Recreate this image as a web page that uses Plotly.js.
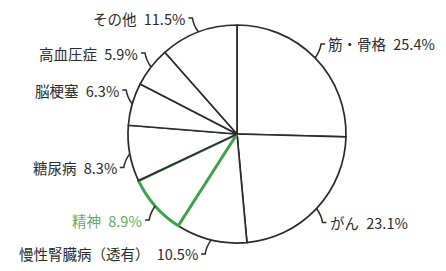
<!DOCTYPE html>
<html>
<head>
<meta charset="utf-8">
<script src="https://cdn.plot.ly/plotly-3.0.1.min.js"></script>
<style>html,body{margin:0;padding:0;background:#fff;}#chart{width:446px;height:271px;}</style>
</head>
<body>
<div id="chart"></div>
<script>
const categories = ["筋・骨格", "がん", "慢性腎臓病（透有）", "精神", "糖尿病", "脳梗塞", "高血圧症", "その他"];
const shares = [25.4, 23.1, 10.5, 8.9, 8.3, 6.3, 5.9, 11.5];
const highlight = "精神";

const W = 446, H = 271;
const M = {l: 128, r: 100, t: 25, b: 28};
const pw = W - M.l - M.r, ph = H - M.t - M.b;
const CX = M.l + pw / 2, CY = M.t + ph / 2, R = Math.min(pw, ph) / 2;
const px2x = p => (p - M.l) / pw;
const py2y = p => 1 - (p - M.t) / ph;

const ink = "#2b2b2b", green = "#3ea24c", greenText = "#66ab66";

const lineColors = categories.map(c => c === highlight ? green : ink);
const lineWidths = categories.map(c => c === highlight ? 3 : 1.7);

const total = shares.reduce((a, b) => a + b, 0);
const annotations = [], shapes = [];
let cum = 0;
categories.forEach((c, i) => {
  const mid = (cum + shares[i] / 2) / total * 2 * Math.PI;
  cum += shares[i];
  const px = CX + R * Math.sin(mid), py = CY - R * Math.cos(mid);
  const side = px < CX ? -1 : 1, vs = py < CY ? -1 : 1;
  const ty = py + vs * 14;
  const tx = px + side * 11;
  const sx = px + side * 6;
  annotations.push({
    xref: "paper", yref: "paper", x: px2x(tx), y: py2y(ty),
    xanchor: side < 0 ? "right" : "left", yanchor: "middle",
    text: c + "\u2002" + shares[i].toFixed(1) + "%", showarrow: false,
    font: {family: "Noto Sans CJK JP", size: 14.5, color: c === highlight ? greenText : ink}
  });
  const path = `M ${px2x(tx + side * -1)} ${py2y(ty)} L ${px2x(sx)} ${py2y(ty)} Q ${px2x(px + side * 5)} ${py2y((ty + py) / 2)} ${px2x(px)} ${py2y(py)}`;
  shapes.push({type: "path", xref: "paper", yref: "paper", path: path, line: {color: ink, width: 1.5}});
});

Plotly.newPlot("chart", [{
  type: "pie", labels: categories, values: shares, sort: false,
  direction: "clockwise", rotation: 0, textinfo: "none", hoverinfo: "none",
  marker: {colors: categories.map(() => "#ffffff"), line: {color: lineColors, width: lineWidths}}
}], {
  width: W, height: H, margin: M, showlegend: false,
  paper_bgcolor: "#ffffff", plot_bgcolor: "#ffffff",
  annotations: annotations, shapes: shapes
}, {displayModeBar: false, staticPlot: true});
</script>
</body>
</html>
